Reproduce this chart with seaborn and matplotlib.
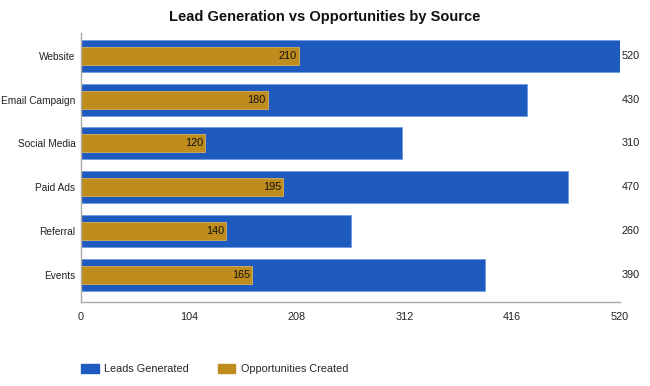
import matplotlib
matplotlib.use("Agg")
import matplotlib.pyplot as plt
import matplotlib.transforms as mtransforms
from matplotlib.patches import Patch
import seaborn as sns
import pandas as pd

sources = ["Website", "Email Campaign", "Social Media", "Paid Ads", "Referral", "Events"]
leads = [520, 430, 310, 470, 260, 390]
opps = [210, 180, 120, 195, 140, 165]
xticks = [0, 104, 208, 312, 416, 520]

sns.set_theme(style="white")
plt.rcParams['font.family'] = ['Liberation Sans', 'DejaVu Sans']

df = pd.DataFrame({"source": sources, "leads": leads, "opps": opps})
blue = "#1f5bbf"
gold = "#bf8c1e"
fs = 7.8

fig = plt.figure(figsize=(6.5, 3.86), dpi=100)
ax = fig.add_axes([0.1246, 0.2176, 0.954 - 0.1246, 0.9145 - 0.2176])

sns.barplot(data=df, y="source", x="leads", order=sources, color=blue, width=0.73,
            edgecolor="#6f9be0", linewidth=0.6, ax=ax, orient="h", saturation=1)
sns.barplot(data=df, y="source", x="opps", order=sources, color=gold, width=0.41,
            edgecolor="#d8b060", linewidth=0.6, ax=ax, orient="h", saturation=1)

ax.set_xlim(0, 520)
ax.set_ylim(5.62, -0.52)
ax.set_xticks(xticks)
ax.set_xticklabels([str(t) for t in xticks], fontsize=fs, color="#222222")
ax.tick_params(axis="y", length=2.5, color="#999999", width=0.8, pad=1.5)
ax.tick_params(axis="x", length=4, color="#999999", width=0.8, pad=3)
ax.set_yticks(range(len(sources)))
ax.set_yticklabels(sources, fontsize=7.3, color="#222222")
ax.set_xlabel("")
ax.set_ylabel("")
for s in ["top", "right"]:
    ax.spines[s].set_visible(False)
for s in ["left", "bottom"]:
    ax.spines[s].set_color("#aaaaaa")
    ax.spines[s].set_linewidth(1.0)

trans = mtransforms.blended_transform_factory(ax.transAxes, ax.transData)
for i, (l, o) in enumerate(zip(leads, opps)):
    ax.text(1.003, i, str(l), transform=trans, ha="left", va="center", fontsize=fs, color="#222222")
    ax.text(o - 2, i, str(o), ha="right", va="center", fontsize=fs, color="#111111")

fig.suptitle("Lead Generation vs Opportunities by Source", x=0.5, y=0.975, fontsize=10.5,
             fontweight="bold", color="#111111")

handles = [Patch(facecolor=blue, edgecolor=blue, label="Leads Generated"),
           Patch(facecolor=gold, edgecolor=gold, label="Opportunities Created")]
fig.legend(handles=handles, loc="lower left", bbox_to_anchor=(0.11, 0.005), ncol=2, frameon=False,
           fontsize=fs, handlelength=1.6, handleheight=0.9, columnspacing=2.7, handletextpad=0.5)

fig.savefig("out.png", dpi=100)
